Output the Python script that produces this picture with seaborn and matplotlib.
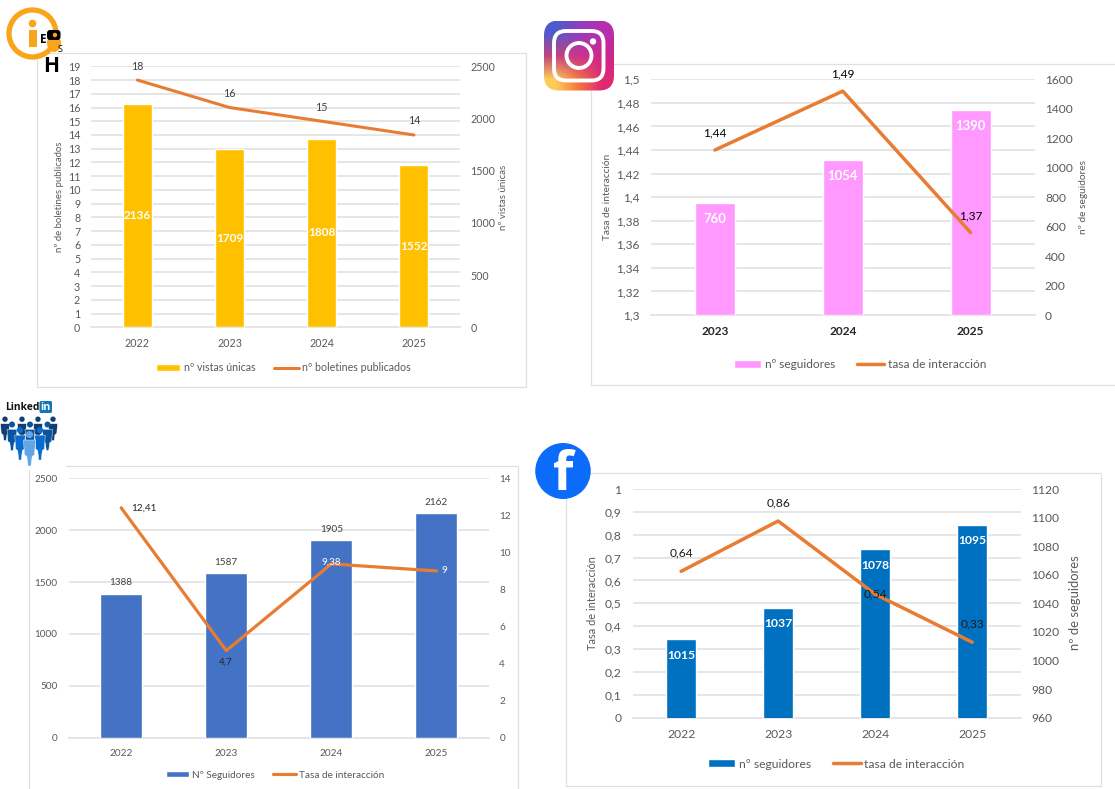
import numpy as np
import matplotlib
matplotlib.use("Agg")
import matplotlib.pyplot as plt
from matplotlib.patches import Rectangle, Circle, Ellipse, FancyBboxPatch, Polygon
import seaborn as sns

# ---------- data ----------
boletin_years = ["2022", "2023", "2024", "2025"]
boletin_vistas = [2136, 1709, 1808, 1552]
boletin_publicados = [18, 16, 15, 14]
boletin_line_labels = ["18", "16", "15", "14"]

insta_years = ["2023", "2024", "2025"]
insta_seguidores = [760, 1054, 1390]
insta_tasa = [1.44, 1.49, 1.37]
insta_line_labels = ["1,44", "1,49", "1,37"]

linkedin_years = ["2022", "2023", "2024", "2025"]
linkedin_seguidores = [1388, 1587, 1905, 2162]
linkedin_tasa = [12.41, 4.7, 9.38, 9]
linkedin_line_labels = ["12,41", "4,7", "9,38", "9"]

face_years = ["2022", "2023", "2024", "2025"]
face_seguidores = [1015, 1037, 1078, 1095]
face_tasa = [0.64, 0.86, 0.54, 0.33]
face_line_labels = ["0,64", "0,86", "0,54", "0,33"]

# ---------- style ----------
sns.set_style("white")
plt.rcParams["font.family"] = ["Lato", "DejaVu Sans"]
W, H = 1115, 789
GRAY = "#595959"
GRID = "#E4E4E4"
ORANGE = "#E97C33"

fig = plt.figure(figsize=(W / 100, H / 100), dpi=100, facecolor="white")


def axes_px(l, t, r, b):
    return fig.add_axes([l / W, 1 - b / H, (r - l) / W, (b - t) / H])


def panel(box, years, bars, line, line_labels, bar_name, line_name, bar_color,
          bar_lim, bar_ticks, line_lim, line_ticks, bars_left, bar_width, fs,
          bar_lab, line_off, line_lab_color, legend_xy, line_tick_fmt=None,
          xtick_bold=False, lw=2.3, bar_fs_scale=1.1):
    base = axes_px(*box)
    bar_ax = base.twinx()
    line_ax = base.twinx()
    x = np.arange(len(years))

    sns.barplot(x=years, y=bars, ax=bar_ax, color=bar_color, width=bar_width,
                saturation=1, label=bar_name)
    sns.lineplot(x=x, y=line, ax=line_ax, color=ORANGE, linewidth=lw, label=line_name,
                 errorbar=None, sort=False, solid_capstyle="round")

    handles = bar_ax.get_legend_handles_labels()
    handles2 = line_ax.get_legend_handles_labels()
    for a in (bar_ax, line_ax):
        if a.get_legend():
            a.get_legend().remove()

    bar_ax.set_ylim(*bar_lim)
    bar_ax.set_yticks(bar_ticks)
    line_ax.set_ylim(*line_lim)
    line_ax.set_yticks(line_ticks)
    if line_tick_fmt:
        line_ax.set_yticklabels([line_tick_fmt(v) for v in line_ticks])

    # grid belongs to the left-hand scale
    left_ax, right_ax = (bar_ax, line_ax) if bars_left else (line_ax, bar_ax)
    base.set_ylim(*left_ax.get_ylim())
    base.set_yticks(left_ax.get_yticks())
    base.tick_params(axis="y", left=False, right=False, labelleft=False, labelright=False)
    base.grid(axis="y", color=GRID, linewidth=1.3)
    base.grid(axis="x", visible=False)
    base.set_axisbelow(True)

    left_ax.yaxis.tick_left()
    right_ax.yaxis.tick_right()
    left_ax.yaxis.set_label_position("left")
    left_ax.tick_params(axis="y", length=0, pad=8, labelsize=fs, labelcolor=GRAY,
                        labelleft=True, labelright=False)
    right_ax.tick_params(axis="y", length=0, pad=7.5, labelsize=fs, labelcolor=GRAY,
                         labelleft=False, labelright=True)
    for a in (bar_ax, line_ax):
        a.set_ylabel("")
        a.set_xlabel("")
        a.grid(False)
        for s in a.spines.values():
            s.set_visible(False)
        a.patch.set_visible(False)

    base.set_xlim(-0.5, len(years) - 0.5)
    base.set_xticks(x)
    base.set_xticklabels(years, fontsize=fs, color="#262626" if xtick_bold else GRAY,
                         fontweight="bold" if xtick_bold else "normal")
    base.tick_params(axis="x", length=0, pad=8)
    for name, s in base.spines.items():
        s.set_visible(name == "bottom")
    base.spines["bottom"].set_color(GRID)
    base.spines["bottom"].set_linewidth(1.3)

    # value labels of the bars
    mode, off, col, weight = bar_lab
    bar_fs = fs * bar_fs_scale if weight == "bold" else fs
    for xi, v in zip(x, bars):
        y = (v + bar_lim[0]) / 2 if mode == "middle" else v
        bar_ax.annotate(str(v), (xi, y), xytext=(0, off), textcoords="offset pixels",
                        ha="center", va="center", color=col, fontsize=bar_fs,
                        fontweight=weight, zorder=5)
    # value labels of the line
    for xi, v, lab, (dx, dy), c in zip(x, line, line_labels, line_off, line_lab_color):
        line_ax.annotate(lab, (xi, v), xytext=(dx, dy), textcoords="offset pixels",
                         ha="center", va="center", color=c, fontsize=fs)

    fig.legend(handles[0] + handles2[0], handles[1] + handles2[1],
               loc="center", bbox_to_anchor=(legend_xy[0] / W, 1 - legend_xy[1] / H),
               ncol=2, frameon=False, fontsize=fs, labelcolor=GRAY, handlelength=2.3,
               handleheight=0.6, handletextpad=0.3, columnspacing=1.8, borderpad=0)


comma = lambda v: f"{v:g}".replace(".", ",")

panel((91.3, 66.3, 460, 327.3), boletin_years, boletin_vistas, boletin_publicados,
      boletin_line_labels, "nº vistas únicas", "nº boletines publicados", "#FFC000",
      (0, 2500), [0, 500, 1000, 1500, 2000, 2500], (0, 19), list(range(20)),
      False, 0.314, 7.7, ("middle", 0, "white", "bold"),
      [(0, 14)] * 4, ["#404040"] * 4, (283.4, 367.7), lw=2.2)

panel((651, 79.3, 1034.5, 315), insta_years, insta_seguidores, insta_tasa,
      insta_line_labels, "nº seguidores", "tasa de interacción", "#FF99FF",
      (0, 1600), list(range(0, 1601, 200)), (1.3, 1.5),
      [1.3, 1.32, 1.34, 1.36, 1.38, 1.4, 1.42, 1.44, 1.46, 1.48, 1.5],
      False, 0.3125, 8.6, ("top", -16, "white", "bold"),
      [(0, 17)] * 3, ["black"] * 3, (860, 365), line_tick_fmt=comma, xtick_bold=True, lw=2.5)

panel((68.6, 478.3, 489, 737.7), linkedin_years, linkedin_seguidores, linkedin_tasa,
      linkedin_line_labels, "Nº Seguidores", "Tasa de interacción", "#4472C4",
      (0, 2500), [0, 500, 1000, 1500, 2000, 2500], (0, 14), list(range(0, 15, 2)),
      True, 0.4, 7.2, ("top", 11, "#404040", "normal"),
      [(23, 0), (0, -12), (0, 2), (7.5, 0)], ["#262626", "#262626", "white", "white"],
      (275, 775), lw=2.3)

panel((632.6, 489, 1020.7, 717.7), face_years, face_seguidores, face_tasa,
      face_line_labels, "nº seguidores", "tasa de interacción", "#0070C0",
      (960, 1120), list(range(960, 1121, 20)), (0, 1),
      [0, .1, .2, .3, .4, .5, .6, .7, .8, .9, 1],
      False, 0.315, 8.7, ("top", -16, "white", "bold"),
      [(0, 18), (0, 18), (0, 0), (0, 18)], ["#1a1a1a"] * 4, (836, 764),
      line_tick_fmt=comma, lw=2.5, bar_fs_scale=1.0)

# ---------- overlay in pixel coordinates: frames, axis titles, logos ----------
ov = fig.add_axes([0, 0, 1, 1], zorder=20)
ov.set_xlim(0, W)
ov.set_ylim(H, 0)
ov.axis("off")
ov.patch.set_visible(False)

FRAME = "#E0E0E0"
for l, t, r, b in [(36.5, 52.5, 526, 387), (590.8, 64.3, 1130, 385),
                   (28.7, 465.7, 518, 810), (566, 473.3, 1101, 785.7)]:
    ov.add_patch(Rectangle((l, t), r - l, b - t, fc="none", ec=FRAME, lw=0.9))
ov.add_patch(Rectangle((0, 395), 66, 74.5, fc="white", ec="none"))

for x, y, s, size in [(59.6, 197, "nº de boletines publicados", 6.9), (504, 197, "nº vistas únicas", 6.9),
                      (607, 197, "Tasa de interacción", 7.3), (1083, 197, "nº de seguidores", 7.3),
                      (592, 603, "Tasa de interacción", 7.9), (1075, 603, "nº de seguidores", 9.4)]:
    ov.text(x, y, s, rotation=90, ha="center", va="center", fontsize=size, color=GRAY)

# info logo
OR = "#F9A51A"
ov.add_patch(Circle((32.5, 33.5), 23.5, fc="none", ec=OR, lw=3.8))
ov.add_patch(Circle((32.5, 23.5), 3.8, fc=OR, ec="none"))
ov.add_patch(Rectangle((28.5, 29.5), 8.5, 17.5, fc=OR, ec="none"))
ov.add_patch(Ellipse((54, 43), 14, 18, fc=OR, ec="none"))
ov.add_patch(FancyBboxPatch((47, 30), 13.5, 10, boxstyle="round,pad=0,rounding_size=3", fc="black", ec="none"))
ov.add_patch(Circle((55, 35), 2.2, fc=OR, ec="none"))
ov.text(43, 39, "E", fontsize=8.5, fontweight="bold", ha="center", va="center", color="black", family="Open Sans")
ov.text(60, 49, "S", fontsize=6.5, ha="center", va="center", color="black", family="Open Sans")
ov.text(51, 66.5, "H", fontsize=15, fontweight="bold", ha="center", va="center", color="black", family="Open Sans")

# instagram logo
ig_x0, ig_x1, ig_y0, ig_y1 = 544, 614, 20.5, 90.5
ig_rgb = np.array([[[0.30, 0.36, 0.80], [0.55, 0.25, 0.75], [0.72, 0.18, 0.68]],
                   [[0.75, 0.27, 0.50], [0.80, 0.20, 0.55], [0.80, 0.15, 0.55]],
                   [[0.99, 0.80, 0.35], [0.96, 0.45, 0.25], [0.88, 0.16, 0.45]]])
im = ov.imshow(ig_rgb, extent=(ig_x0, ig_x1, ig_y1, ig_y0), interpolation="bilinear", aspect="auto", zorder=2)
clip = FancyBboxPatch((ig_x0, ig_y0), ig_x1 - ig_x0, ig_y1 - ig_y0, boxstyle="round,pad=0,rounding_size=15",
                      transform=ov.transData, fc="none", ec="none")
ov.add_patch(clip)
im.set_clip_path(clip)
ov.set_xlim(0, W)
ov.set_ylim(H, 0)
ov.add_patch(FancyBboxPatch((554, 31), 49.5, 49.5, boxstyle="round,pad=0,rounding_size=12",
                            fc="none", ec="white", lw=2.8, zorder=3))
ov.add_patch(Circle((579, 55.5), 12.5, fc="none", ec="white", lw=2.8, zorder=3))
ov.add_patch(Circle((593, 41.5), 3.2, fc="white", ec="none", zorder=3))

# linkedin logo
ov.text(5, 407, "Linked", fontsize=7.4, fontweight="bold", ha="left", va="center", color="#111111", family="Open Sans")
ov.add_patch(FancyBboxPatch((39.5, 401), 12.5, 12, boxstyle="round,pad=0,rounding_size=1.5", fc="#1277B5", ec="none"))
ov.text(45.8, 407, "in", fontsize=7.6, fontweight="bold", ha="center", va="center", color="white", family="Open Sans")


def person(cx, top, h, w, c, z):
    r = w * 0.3
    ov.add_patch(Circle((cx, top + r), r, fc=c, ec="none", zorder=z))
    y0 = top + 2 * r + 0.8
    ov.add_patch(Polygon([(cx - w / 2, y0 + 1), (cx + w / 2, y0 + 1), (cx + w * 0.42, y0 + h * 0.45),
                          (cx + w * 0.22, y0 + h * 0.5), (cx + w * 0.12, top + h), (cx - w * 0.12, top + h),
                          (cx - w * 0.22, y0 + h * 0.5), (cx - w * 0.42, y0 + h * 0.45)],
                         fc=c, ec="white", lw=0.3, zorder=z))


for cx in (5, 22, 38, 53):
    person(cx, 416.5, 24, 9, "#123E73", 4)
for cx in (12, 30, 47.5):
    person(cx, 421.5, 29, 10, "#0B559F", 5)
for cx in (20, 40):
    person(cx, 427, 33, 10.5, "#0A6CD0", 6)
person(29.5, 431, 35, 12, "#62A6E6", 7)

# facebook logo
ov.add_patch(Ellipse((563, 471), 55.5, 56, fc="#0B6CFB", ec="none", zorder=4))
ov.text(563, 476, "f", fontsize=38, fontweight="bold", ha="center", va="center", color="white",
        family="Open Sans", zorder=5)

fig.savefig("out.png", dpi=100)
